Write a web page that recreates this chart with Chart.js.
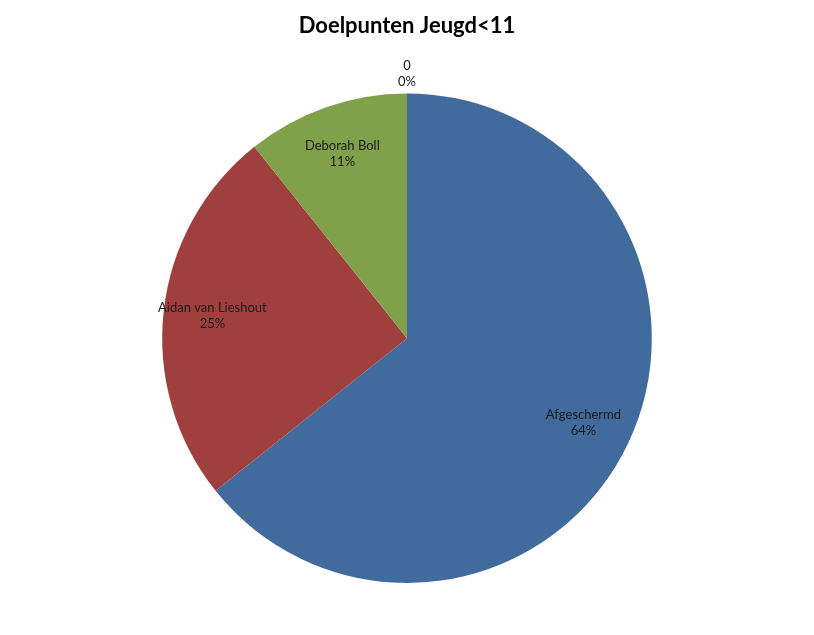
<!DOCTYPE html>
<html>
<head>
<meta charset="utf-8">
<script src="https://cdn.jsdelivr.net/npm/chart.js@4.4.1/dist/chart.umd.min.js"></script>
<style>
  html, body { margin: 0; padding: 0; background: #fff; }
  #wrap { width: 814px; height: 635px; }
</style>
</head>
<body>
<div id="wrap"><canvas id="pieChart"></canvas></div>
<script>
// chart data
const players = ['Afgeschermd', 'Aidan van Lieshout', 'Deborah Boll', '0'];
const goals = [18, 7, 3, 0];
const sliceColors = ['#416A9D', '#A0403E', '#81A04A', '#7F64A1'];

// draws "name / percent" labels like Excel data labels
const sliceLabels = {
    id: 'sliceLabels',
    afterDatasetsDraw(chart) {
        const ctx = chart.ctx;
        const meta = chart.getDatasetMeta(0);
        const total = goals.reduce((a, b) => a + b, 0);
        ctx.save();
        ctx.font = '13px Lato, "Open Sans", sans-serif';
        ctx.fillStyle = '#1a1a1a';
        ctx.textAlign = 'center';
        ctx.textBaseline = 'middle';
        meta.data.forEach((arc, i) => {
            const p = arc.getProps(['x', 'y', 'startAngle', 'endAngle', 'outerRadius'], true);
            const mid = (p.startAngle + p.endAngle) / 2;
            const dist = goals[i] === 0 ? p.outerRadius + 20 : p.outerRadius * 0.8;
            const x = p.x + Math.cos(mid) * dist;
            const y = p.y + Math.sin(mid) * dist;
            const pct = Math.round(goals[i] / total * 100) + '%';
            ctx.fillText(players[i], x, y - 8);
            ctx.fillText(pct, x, y + 8);
        });
        ctx.restore();
    }
};

new Chart(document.getElementById('pieChart').getContext('2d'), {
    type: 'pie',
    data: {
        labels: players,
        datasets: [{
            data: goals,
            backgroundColor: sliceColors,
            borderWidth: 0
        }]
    },
    options: {
        responsive: true,
        maintainAspectRatio: false,
        animation: false,
        layout: { padding: { top: 0, bottom: 52, left: 162, right: 162 } },
        plugins: {
            legend: { display: false },
            tooltip: { enabled: false },
            title: {
                display: true,
                text: 'Doelpunten Jeugd<11',
                color: '#000',
                font: { family: 'Lato, "Open Sans", sans-serif', size: 22, weight: 'bold' },
                padding: { top: 13, bottom: 54 }
            }
        }
    },
    plugins: [sliceLabels]
});
</script>
</body>
</html>
